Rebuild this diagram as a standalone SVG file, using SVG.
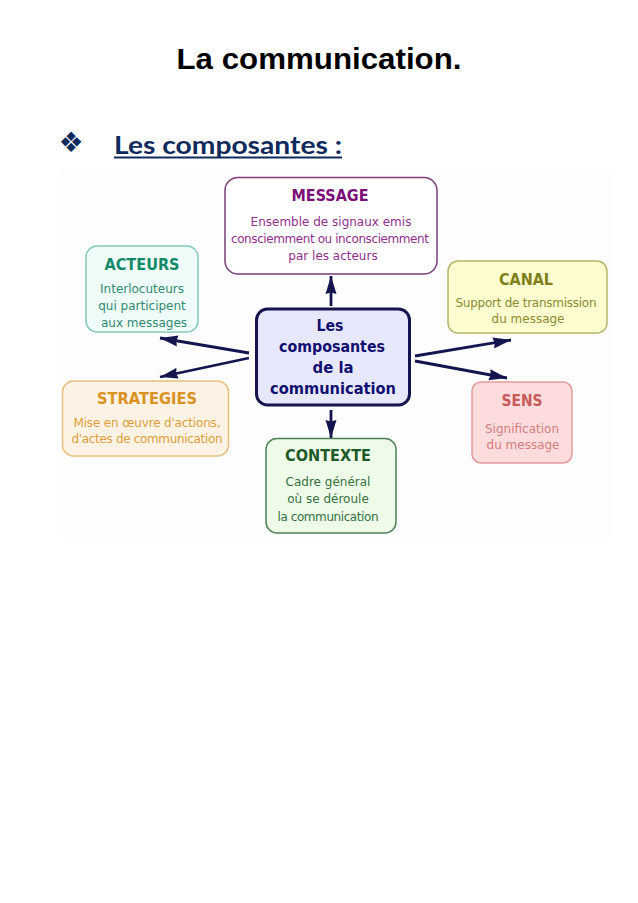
<svg xmlns="http://www.w3.org/2000/svg" width="638" height="903" viewBox="0 0 638 903">
<style>
text{text-anchor:middle;font-family:"DejaVu Sans",sans-serif}
.t{font-size:16.500px;font-weight:bold;font-family:"DejaVu Sans Condensed","DejaVu Sans",sans-serif}
.b{font-size:12px;font-family:"DejaVu Sans",sans-serif}
.c{font-size:16px;font-weight:bold;fill:#101070;font-family:"DejaVu Sans Condensed","DejaVu Sans",sans-serif}
.n{stroke-width:1.500}
.a{stroke:#14144f;stroke-width:2.800;fill:none;marker-end:url(#ah)}
</style>
<defs>
<marker id="ah" markerUnits="userSpaceOnUse" markerWidth="20" markerHeight="12" refX="18" refY="6" orient="auto"><path d="M0 .5L18 6L0 11.500L1.500 6Z" fill="#14144f"/></marker>
</defs>
<rect width="638" height="903" fill="#fff"/>
<rect x="59" y="172" width="552" height="365" fill="#fdfdfd"/>
<text x="319" y="69" style="font-family:'Liberation Sans',sans-serif;font-size:29px;font-weight:bold" textLength="285" lengthAdjust="spacingAndGlyphs">La communication.</text>
<text x="71" y="152" style="font-family:'DejaVu Sans',sans-serif;font-size:28px" fill="#0f2a5c">❖</text>
<text x="228" y="154" style="font-family:'Lato',sans-serif;font-size:25px;font-weight:bold" fill="#0f2a5c" textLength="228" lengthAdjust="spacingAndGlyphs">Les composantes :</text>
<rect x="114" y="156.500" width="228" height="2" fill="#0f2a5c"/>
<g id="connectors">
<path class="a" d="M331 306V276"/>
<path class="a" d="M249 353L160 338"/>
<path class="a" d="M249 358L160 377"/>
<path class="a" d="M415 356L511 340"/>
<path class="a" d="M415 361L507 378"/>
<path class="a" d="M331 410V438"/>
</g>
<g id="message">
<rect class="n" x="225" y="177.500" width="212" height="96.500" rx="13" fill="#fff" stroke="#7b3f78"/>
<text class="t" x="330" y="201" fill="#7b0f78" textLength="77" lengthAdjust="spacingAndGlyphs">MESSAGE</text>
<g class="b" fill="#8f2f8c"><text x="331" y="226">Ensemble de signaux emis</text><text x="330" y="243" textLength="198">consciemment ou inconsciemment</text><text x="333" y="260">par les acteurs</text></g>
</g>
<g id="acteurs">
<rect class="n" x="86" y="246" width="112" height="86" rx="11" fill="#effcf9" stroke="#85c9b6"/>
<text class="t" x="142" y="270" fill="#128a68" textLength="75" lengthAdjust="spacingAndGlyphs">ACTEURS</text>
<g class="b" fill="#2f8a72"><text x="142" y="293">Interlocuteurs</text><text x="142" y="310">qui participent</text><text x="144" y="327">aux messages</text></g>
</g>
<g id="canal">
<rect class="n" x="448" y="261" width="159" height="72" rx="10" fill="#fdfdd0" stroke="#b5b56a"/>
<text class="t" x="526" y="285" fill="#7f7f1a" textLength="54" lengthAdjust="spacingAndGlyphs">CANAL</text>
<g class="b" fill="#8b8b30"><text x="526" y="307" textLength="141">Support de transmission</text><text x="528" y="323">du message</text></g>
</g>
<g id="centre">
<rect x="256.500" y="309" width="153" height="96" rx="11" fill="#e8e8fc" stroke="#14144f" stroke-width="3"/>
<g class="c"><text x="330" y="331" textLength="27" lengthAdjust="spacingAndGlyphs">Les</text><text x="332" y="352" textLength="106" lengthAdjust="spacingAndGlyphs">composantes</text><text x="333" y="373" textLength="41" lengthAdjust="spacingAndGlyphs">de la</text><text x="333" y="394" textLength="126" lengthAdjust="spacingAndGlyphs">communication</text></g>
</g>
<g id="strategies">
<rect class="n" x="62.500" y="381" width="166" height="75" rx="11" fill="#fdf3e4" stroke="#e8bf7c"/>
<text class="t" x="147" y="404" fill="#d9921f" textLength="100" lengthAdjust="spacingAndGlyphs">STRATEGIES</text>
<g class="b" fill="#dd9f3d"><text x="147" y="427" textLength="147">Mise en œuvre d'actions,</text><text x="147" y="443" textLength="151">d'actes de communication</text></g>
</g>
<g id="sens">
<rect class="n" x="472" y="382" width="100" height="81" rx="9" fill="#fcdcdc" stroke="#e59a9a"/>
<text class="t" x="522" y="406" fill="#c95a5a" textLength="41" lengthAdjust="spacingAndGlyphs">SENS</text>
<g class="b" fill="#d47e7e"><text x="522" y="433">Signification</text><text x="523" y="449">du message</text></g>
</g>
<g id="contexte">
<rect class="n" x="266" y="438.500" width="130" height="94.500" rx="11" fill="#eefbe9" stroke="#4c8055"/>
<text class="t" x="328" y="461" fill="#1e5a28" textLength="86" lengthAdjust="spacingAndGlyphs">CONTEXTE</text>
<g class="b" fill="#37703f"><text x="328" y="486">Cadre général</text><text x="328" y="503">où se déroule</text><text x="328" y="521" textLength="101">la communication</text></g>
</g>
</svg>
